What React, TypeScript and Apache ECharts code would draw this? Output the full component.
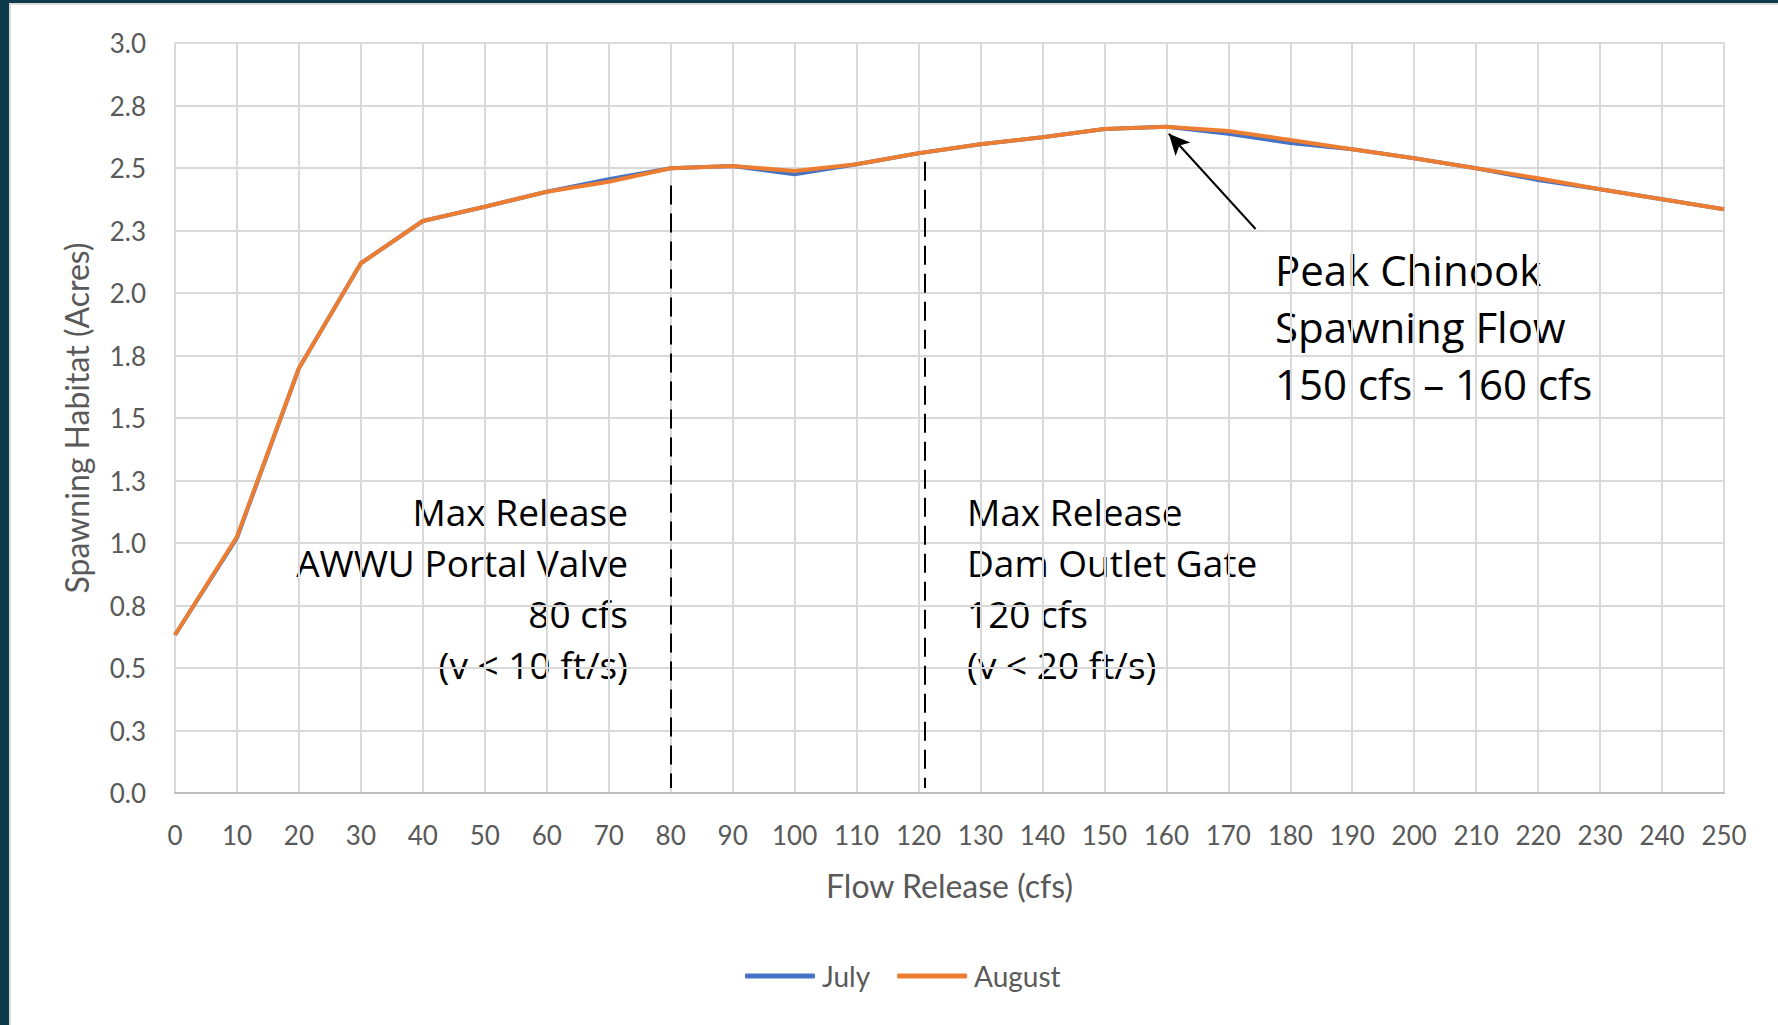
import React, { useEffect, useRef } from "react";
import * as echarts from "echarts";

const flowCfs = [0, 10, 20, 30, 40, 50, 60, 70, 80, 90, 100, 110, 120, 130, 140, 150, 160, 170, 180, 190, 200, 210, 220, 230, 240, 250];
const julyAcres = [0.632, 1.02, 1.699, 2.119, 2.288, 2.345, 2.405, 2.455, 2.499, 2.508, 2.475, 2.515, 2.559, 2.595, 2.623, 2.656, 2.665, 2.637, 2.6, 2.575, 2.539, 2.499, 2.452, 2.415, 2.375, 2.335];
const augustAcres = [0.632, 1.025, 1.699, 2.119, 2.288, 2.345, 2.405, 2.445, 2.499, 2.508, 2.488, 2.515, 2.559, 2.595, 2.623, 2.656, 2.665, 2.648, 2.612, 2.575, 2.539, 2.499, 2.459, 2.415, 2.375, 2.335];
const yTickLabels = ["0.0", "0.3", "0.5", "0.8", "1.0", "1.3", "1.5", "1.8", "2.0", "2.3", "2.5", "2.8", "3.0"];
const seriesNames = ["July", "August"];
const releaseLimits = [80, 121];

const FONT = "Lato, 'Open Sans', sans-serif";
const NOTE_FONT = "'Open Sans', Lato, sans-serif";

export default function App() {
  const ref = useRef<HTMLDivElement>(null);
  useEffect(() => {
    if (!ref.current) return;
    const chart = echarts.init(ref.current, undefined, { renderer: "svg" });
    const july = flowCfs.map((x, i) => [x, julyAcres[i]]);
    const august = flowCfs.map((x, i) => [x, augustAcres[i]]);
    const dashLines = [
      [{ coord: [releaseLimits[0], 2.43] }, { coord: [releaseLimits[0], 0.02] }],
      [{ coord: [releaseLimits[1], 2.525] }, { coord: [releaseLimits[1], 0.02] }],
    ];
    chart.setOption({
      animation: false,
      backgroundColor: "#ffffff",
      textStyle: { fontFamily: FONT },
      grid: { left: 175, top: 43, right: 54, bottom: 232, containLabel: false },
      legend: {
        left: 740,
        top: 957,
        itemWidth: 70,
        itemHeight: 5,
        itemGap: 27,
        icon: "roundRect",
        textStyle: { fontSize: 28, color: "#595959", fontFamily: FONT, padding: [0, 0, 0, 2] },
        data: seriesNames,
      },
      xAxis: {
        type: "value",
        min: 0,
        max: 250,
        interval: 10,
        name: "Flow Release (cfs)",
        nameLocation: "middle",
        nameGap: 76,
        nameTextStyle: { fontSize: 32, color: "#595959", fontFamily: FONT },
        axisLine: { show: true, lineStyle: { color: "#bfbfbf", width: 2 } },
        axisTick: { show: false },
        axisLabel: { fontSize: 26, color: "#595959", margin: 29, fontFamily: FONT },
        splitLine: { show: true, lineStyle: { color: "#d9d9d9", width: 2 } },
      },
      yAxis: {
        type: "value",
        min: 0,
        max: 3,
        interval: 0.25,
        name: "Spawning Habitat (Acres)",
        nameLocation: "middle",
        nameGap: 83,
        nameTextStyle: { fontSize: 32, color: "#595959", fontFamily: FONT },
        axisLine: { show: true, lineStyle: { color: "#d9d9d9", width: 2 } },
        axisTick: { show: false },
        axisLabel: {
          fontSize: 26,
          color: "#595959",
          margin: 29,
          fontFamily: FONT,
          formatter: (v: number) => yTickLabels[Math.round(v / 0.25)] ?? "",
        },
        splitLine: { show: true, lineStyle: { color: "#d9d9d9", width: 2 } },
      },
      series: [
        {
          name: seriesNames[0],
          type: "line",
          data: july,
          showSymbol: false,
          symbol: "none",
          lineStyle: { color: "#4472c4", width: 4 },
          itemStyle: { color: "#4472c4" },
          z: 2,
        },
        {
          name: seriesNames[1],
          type: "line",
          data: august,
          showSymbol: false,
          symbol: "none",
          lineStyle: { color: "#ed7d31", width: 4 },
          itemStyle: { color: "#ed7d31" },
          z: 3,
          markLine: {
            silent: true,
            symbol: ["none", "none"],
            label: { show: false },
            lineStyle: { color: "#000000", width: 2, type: [19, 9] },
            emphasis: { disabled: true },
            data: dashLines,
          },
        },
        {
          name: "arrow",
          type: "line",
          data: [],
          markLine: {
            silent: true,
            symbol: ["none", "arrow"],
            symbolSize: [15, 21],
            label: { show: false },
            lineStyle: { color: "#000000", width: 2, type: "solid" },
            emphasis: { disabled: true },
            data: [[{ coord: [174.4, 2.256] }, { coord: [160.4, 2.637] }]],
          },
        },
      ],
      graphic: [
        { type: "rect", shape: { x: 0, y: 0, width: 9, height: 1025 }, style: { fill: "#0c3a4a" }, silent: true },
        { type: "rect", shape: { x: 0, y: 0, width: 1778, height: 3 }, style: { fill: "#0c3a4a" }, silent: true },
        { type: "rect", shape: { x: 9, y: 3, width: 2, height: 1022 }, style: { fill: "#d9d9d9" }, silent: true },
        { type: "rect", shape: { x: 9, y: 3, width: 1769, height: 2 }, style: { fill: "#d9d9d9" }, silent: true },
        {
          type: "text",
          x: 628,
          y: 486,
          style: {
            text: "Max Release\nAWWU Portal Valve\n80 cfs\n(v < 10 ft/s)",
            align: "right",
            verticalAlign: "top",
            fontSize: 37,
            lineHeight: 51,
            fill: "#000000",
            fontFamily: NOTE_FONT,
          },
        },
        {
          type: "text",
          x: 967,
          y: 486,
          style: {
            text: "Max Release\nDam Outlet Gate\n120 cfs\n(v < 20 ft/s)",
            align: "left",
            verticalAlign: "top",
            fontSize: 37,
            lineHeight: 51,
            fill: "#000000",
            fontFamily: NOTE_FONT,
          },
        },
        {
          type: "text",
          x: 1275,
          y: 241,
          style: {
            text: "Peak Chinook\nSpawning Flow\n150 cfs \u2013 160 cfs",
            align: "left",
            verticalAlign: "top",
            fontSize: 42,
            lineHeight: 57,
            fill: "#000000",
            fontFamily: NOTE_FONT,
          },
        },
      ],
    });
    return () => chart.dispose();
  }, []);
  return (
    <div style={{ position: "fixed", left: 0, top: 0, width: 1778, height: 1025, background: "#ffffff" }}>
      <div ref={ref} style={{ width: 1778, height: 1025 }} />
    </div>
  );
}
